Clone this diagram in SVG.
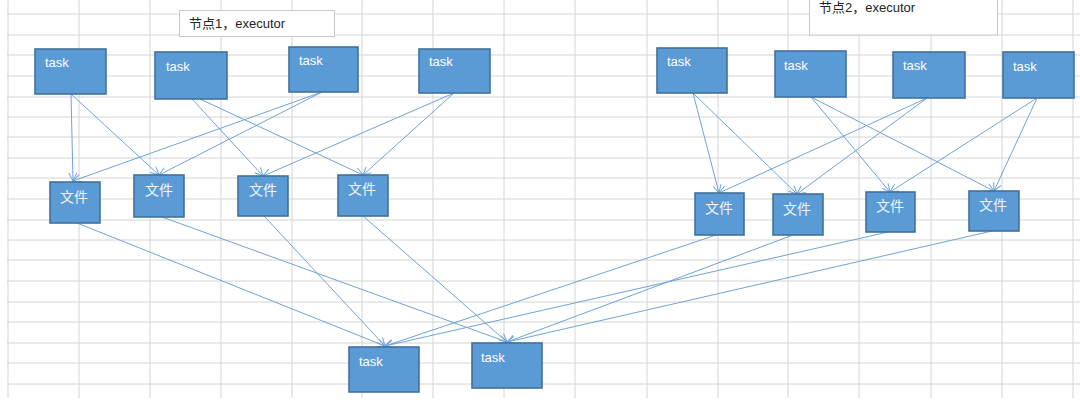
<svg xmlns="http://www.w3.org/2000/svg" width="1080" height="406" viewBox="0 0 1080 406">
<style>
.grid line{stroke:#d4d4d4;stroke-width:1}
.box{fill:#5B9BD5;stroke:#41719C;stroke-width:1.6}
.t{font-family:"Liberation Sans",Arial,sans-serif;font-size:13px;fill:#ffffff}
.f{font-family:"Noto Sans CJK SC","Liberation Sans",sans-serif;font-size:14px;fill:#f4f4f4;text-anchor:middle}
.lbl{fill:#ffffff;stroke:#c8c8c8;stroke-width:1}
.lt{font-family:"Liberation Sans","Noto Sans CJK SC",sans-serif;font-size:13px;fill:#222222}
.c line{stroke:#6FA3D8;stroke-width:1;fill:none}
.c .a{marker-end:url(#arr)}
</style>
<defs>
<marker id="arr" markerUnits="userSpaceOnUse" markerWidth="12" markerHeight="12" refX="9" refY="5" orient="auto">
<path d="M1,1 L9,5 L1,9" fill="none" stroke="#6FA3D8" stroke-width="1"/>
</marker>
</defs>
<rect width="1080" height="406" fill="#ffffff"/>
<g class="grid">
<line x1="7" y1="14" x2="1080" y2="14"/>
<line x1="7" y1="35" x2="1080" y2="35"/>
<line x1="7" y1="55" x2="1080" y2="55"/>
<line x1="7" y1="76" x2="1080" y2="76"/>
<line x1="7" y1="97" x2="1080" y2="97"/>
<line x1="7" y1="117" x2="1080" y2="117"/>
<line x1="7" y1="137" x2="1080" y2="137"/>
<line x1="7" y1="158" x2="1080" y2="158"/>
<line x1="7" y1="178" x2="1080" y2="178"/>
<line x1="7" y1="199" x2="1080" y2="199"/>
<line x1="7" y1="220" x2="1080" y2="220"/>
<line x1="7" y1="240" x2="1080" y2="240"/>
<line x1="7" y1="260" x2="1080" y2="260"/>
<line x1="7" y1="281" x2="1080" y2="281"/>
<line x1="7" y1="302" x2="1080" y2="302"/>
<line x1="7" y1="322" x2="1080" y2="322"/>
<line x1="7" y1="343" x2="1080" y2="343"/>
<line x1="7" y1="363" x2="1080" y2="363"/>
<line x1="7" y1="384" x2="1080" y2="384"/>
<line x1="8" y1="0" x2="8" y2="398"/>
<line x1="79" y1="0" x2="79" y2="398"/>
<line x1="150" y1="0" x2="150" y2="398"/>
<line x1="221" y1="0" x2="221" y2="398"/>
<line x1="292" y1="0" x2="292" y2="398"/>
<line x1="362" y1="0" x2="362" y2="398"/>
<line x1="433" y1="0" x2="433" y2="398"/>
<line x1="504" y1="0" x2="504" y2="398"/>
<line x1="575" y1="0" x2="575" y2="398"/>
<line x1="647" y1="0" x2="647" y2="398"/>
<line x1="718" y1="0" x2="718" y2="398"/>
<line x1="788" y1="0" x2="788" y2="398"/>
<line x1="859" y1="0" x2="859" y2="398"/>
<line x1="931" y1="0" x2="931" y2="398"/>
<line x1="1002" y1="0" x2="1002" y2="398"/>
<line x1="1073" y1="0" x2="1073" y2="398"/>
</g>
<g id="label1"><rect class="lbl" x="179.5" y="10.5" width="155" height="26"/><text class="lt" x="189" y="28">节点1，executor</text></g>
<g id="label2"><rect class="lbl" x="809.5" y="-1" width="188" height="36"/><text class="lt" x="819" y="12">节点2，executor</text></g>
<g class="c" id="connectors">
<line class="a" x1="71" y1="94" x2="73" y2="181"/>
<line class="a" x1="71" y1="94" x2="159" y2="175"/>
<line class="a" x1="192" y1="99" x2="263" y2="176"/>
<line class="a" x1="200" y1="99" x2="363" y2="175"/>
<line class="a" x1="322" y1="92" x2="73" y2="181"/>
<line class="a" x1="322" y1="92" x2="159" y2="175"/>
<line class="a" x1="454" y1="93" x2="263" y2="176"/>
<line class="a" x1="454" y1="93" x2="363" y2="175"/>
<line class="a" x1="693" y1="93" x2="719" y2="193"/>
<line class="a" x1="693" y1="93" x2="797" y2="194"/>
<line class="a" x1="811" y1="97" x2="890" y2="192"/>
<line class="a" x1="811" y1="97" x2="994" y2="191"/>
<line class="a" x1="927" y1="98" x2="719" y2="193"/>
<line class="a" x1="927" y1="98" x2="797" y2="194"/>
<line class="a" x1="1037" y1="98" x2="890" y2="192"/>
<line class="a" x1="1037" y1="98" x2="994" y2="191"/>
<line class="a" x1="77" y1="223" x2="385" y2="346"/>
<line class="a" x1="162" y1="217" x2="507" y2="342"/>
<line class="a" x1="264" y1="216" x2="385" y2="346"/>
<line class="a" x1="363" y1="216" x2="507" y2="342"/>
<line class="a" x1="716" y1="235" x2="385" y2="346"/>
<line class="a" x1="793" y1="235" x2="507" y2="342"/>
<line class="a" x1="888" y1="232" x2="385" y2="346"/>
<line class="a" x1="992" y1="231" x2="507" y2="342"/>
</g>
<g id="task1"><rect class="box" x="35" y="49" width="71" height="45"/><text class="t" x="45" y="67">task</text></g>
<g id="task2"><rect class="box" x="155" y="52" width="72" height="47"/><text class="t" x="166" y="71">task</text></g>
<g id="task3"><rect class="box" x="289" y="47" width="69" height="45"/><text class="t" x="299" y="65">task</text></g>
<g id="task4"><rect class="box" x="419" y="49" width="71" height="44"/><text class="t" x="429" y="66">task</text></g>
<g id="task5"><rect class="box" x="657" y="48" width="70" height="45"/><text class="t" x="667" y="66">task</text></g>
<g id="task6"><rect class="box" x="775" y="51" width="71" height="46"/><text class="t" x="784" y="70">task</text></g>
<g id="task7"><rect class="box" x="893" y="52" width="72" height="46"/><text class="t" x="903" y="70">task</text></g>
<g id="task8"><rect class="box" x="1003" y="52" width="71" height="46"/><text class="t" x="1013" y="71">task</text></g>
<g id="file1"><rect class="box" x="50" y="182" width="50" height="41"/><text class="f" x="74" y="202">文件</text></g>
<g id="file2"><rect class="box" x="134" y="175" width="50" height="42"/><text class="f" x="159" y="195">文件</text></g>
<g id="file3"><rect class="box" x="238" y="176" width="50" height="40"/><text class="f" x="263" y="195">文件</text></g>
<g id="file4"><rect class="box" x="338" y="175" width="50" height="41"/><text class="f" x="362" y="194">文件</text></g>
<g id="file5"><rect class="box" x="695" y="193" width="49" height="42"/><text class="f" x="719" y="213">文件</text></g>
<g id="file6"><rect class="box" x="773" y="194" width="50" height="41"/><text class="f" x="797" y="214">文件</text></g>
<g id="file7"><rect class="box" x="866" y="192" width="49" height="40"/><text class="f" x="890" y="211">文件</text></g>
<g id="file8"><rect class="box" x="969" y="191" width="50" height="40"/><text class="f" x="993" y="210">文件</text></g>
<g id="task9"><rect class="box" x="349" y="347" width="70" height="45"/><text class="t" x="359" y="366">task</text></g>
<g id="task10"><rect class="box" x="472" y="343" width="70" height="45"/><text class="t" x="481" y="362">task</text></g>
</svg>
